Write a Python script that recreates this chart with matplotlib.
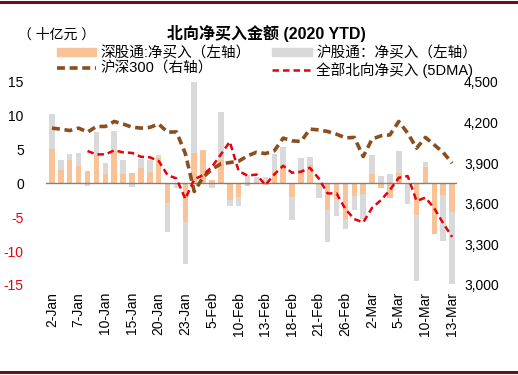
import numpy as np
import matplotlib
matplotlib.use("Agg")
from matplotlib import pyplot as plt
from matplotlib.patches import Patch
from matplotlib.lines import Line2D
from matplotlib.ticker import FuncFormatter

plt.rcParams["font.family"] = ["Liberation Sans", "Noto Sans CJK SC", "DejaVu Sans"]
plt.rcParams["axes.unicode_minus"] = False

dates = ["2-Jan", "3-Jan", "6-Jan", "7-Jan", "8-Jan", "9-Jan", "10-Jan", "13-Jan",
         "14-Jan", "15-Jan", "16-Jan", "17-Jan", "20-Jan", "21-Jan", "22-Jan", "23-Jan",
         "3-Feb", "4-Feb", "5-Feb", "6-Feb", "7-Feb", "10-Feb", "11-Feb", "12-Feb",
         "13-Feb", "14-Feb", "17-Feb", "18-Feb", "19-Feb", "20-Feb", "21-Feb", "24-Feb",
         "25-Feb", "26-Feb", "27-Feb", "28-Feb", "2-Mar", "3-Mar", "4-Mar", "5-Mar",
         "6-Mar", "9-Mar", "10-Mar", "11-Mar", "12-Mar", "13-Mar"]

# 深股通 net buy (bn RMB)
sz_net = [5.1, 2.0, 3.5, 2.55, 1.8, 4.2, 1.4, 4.8, 1.4, 1.5, 2.25, 1.7, 3.8, -2.95, 0.1, -5.67,
          4.5, 4.9, 0.45, 3.5, -2.5, -2.0, -0.35, 0.2, -0.3, 1.7, 2.7, -2.0, 1.9, 2.7, -0.2, -3.9,
          -2.3, -5.2, -1.8, -1.6, 1.45, -0.7, -2.1, 1.57, -0.1, -4.7, 2.45, -7.4, -1.73, -4.2]
# 沪股通 net buy (bn RMB)
sh_net = [5.1, 1.4, 0.9, 2.0, -0.4, 3.4, 1.55, 2.9, 2.0, -0.5, 1.4, 1.8, 0.4, -4.2, -0.75, -6.2,
          10.6, 0.0, -0.75, 7.1, -0.8, -1.3, 1.3, 0.8, 0.9, 2.6, 2.7, -3.4, 1.8, 1.15, -1.9, -4.8,
          -2.5, -1.55, -2.15, -3.7, 2.8, 1.1, 1.35, 3.2, -2.9, -9.7, 0.65, 0.0, -6.75, -10.6]
# 沪深300 index level
hs300 = [4158, 4150, 4140, 4158, 4128, 4170, 4170, 4207, 4188, 4165, 4158, 4163, 4188, 4128,
         4130, 3970, 3690, 3796, 3855, 3894, 3904, 3914, 3953, 3980, 3970, 3990, 4084, 4064,
         4059, 4150, 4145, 4133, 4113, 4086, 4089, 3948, 4077, 4101, 4108, 4207, 4121, 4010,
         4089, 4034, 3978, 3899]
# total northbound net buy, 5-day moving average
nb_5dma = [None, None, None, None, 4.77, 4.28, 4.28, 4.87, 4.58, 4.5, 3.93, 3.85, 3.3, 1.22,
           0.73, -2.3, 0.6, 1.23, 2.46, 4.28, 6.15, 1.8, 1.15, 1.3, -0.25, 1.33, 2.6, 1.57,
           1.72, 2.3, 0.73, -1.48, -1.48, -3.8, -5.27, -5.76, -3.6, -2.47, -0.99, 0.83, 1.08,
           -2.6, -2.1, -3.7, -5.9, -7.9]

c_sz = "#F9C397"
c_sh = "#D9D9D9"
c_hs = "#8B4E1E"
c_nb = "#E8000B"
c_border = "#6B0F0F"

x = np.arange(len(dates))
sz = np.array(sz_net)
sh = np.array(sh_net)
# grey stacks on orange when both have the same sign, otherwise starts at zero
sh_bottom = np.where(np.sign(sh) == np.sign(sz), sz, 0.0)
nb = np.array(nb_5dma, dtype=float)

fig = plt.figure(figsize=(5.18, 3.75), dpi=100)
ax = fig.add_axes([0.0888, 0.24, 0.7935, 0.542])
ax2 = ax.twinx()

ax.bar(x, sz, width=0.62, color=c_sz, zorder=2)
ax.bar(x, sh, width=0.62, bottom=sh_bottom, color=c_sh, zorder=2)
ax.axhline(0, color="#808080", lw=1.0, zorder=3)

ax2.plot(x, hs300, color=c_hs, lw=2.6, dashes=(2.2, 1.3), zorder=4)
ax2.plot(x, nb, color=c_nb, lw=1.8, dashes=(2.6, 1.6), zorder=5, transform=ax.transData)

ax.set_xlim(-0.67, 45.55)
ax.set_ylim(-15, 15)
ax.set_yticks(range(-15, 16, 5))
ax2.set_ylim(3000, 4500)
ax2.set_yticks(range(3000, 4501, 300))
ax2.yaxis.set_major_formatter(FuncFormatter(lambda v, p: f"{int(v):,}"))

ax.set_xticks(x[::3])
ax.set_xticklabels(dates[::3], rotation=90, fontsize=10)
ax.tick_params(axis="both", length=0, labelsize=10)
ax.tick_params(axis="y", pad=16)
ax2.tick_params(axis="y", length=0, labelsize=10, pad=5)
ax.tick_params(axis="x", pad=5)
for lab in ax.get_yticklabels():
    if lab.get_text().startswith("-"):
        lab.set_color("#E8000B")

for a in (ax, ax2):
    for s in a.spines.values():
        s.set_visible(False)

fig.text(0.515, 0.912, "北向净买入金额 (2020 YTD)", ha="center", va="center",
         fontsize=11.5, fontweight="bold")
fig.text(0.035, 0.908, "（ 十亿元 ）", ha="left", va="center", fontsize=10)

handles = [Patch(color=c_sz), Line2D([], [], color=c_hs, lw=2.6, dashes=(2.2, 1.3)),
           Patch(color=c_sh), Line2D([], [], color=c_nb, lw=1.8, dashes=(2.6, 1.6))]
labels = ["深股通:净买入（左轴）", "沪深300（右轴）", "沪股通：净买入（左轴）", "全部北向净买入 (5DMA)"]
fig.legend(handles, labels, ncol=2, loc="upper left", bbox_to_anchor=(0.095, 0.897),
           frameon=False, fontsize=10.5, handlelength=2.7, handleheight=0.5,
           handletextpad=0.3, columnspacing=1.5, labelspacing=0.12, borderpad=0)

# dark red rules at top and bottom of the exhibit
fig.add_artist(Line2D([0, 1], [0.995, 0.995], color=c_border, lw=2.2))
fig.add_artist(Line2D([0, 1], [0.007, 0.007], color=c_border, lw=2.2))

fig.savefig("out.png", dpi=100, facecolor="white")
